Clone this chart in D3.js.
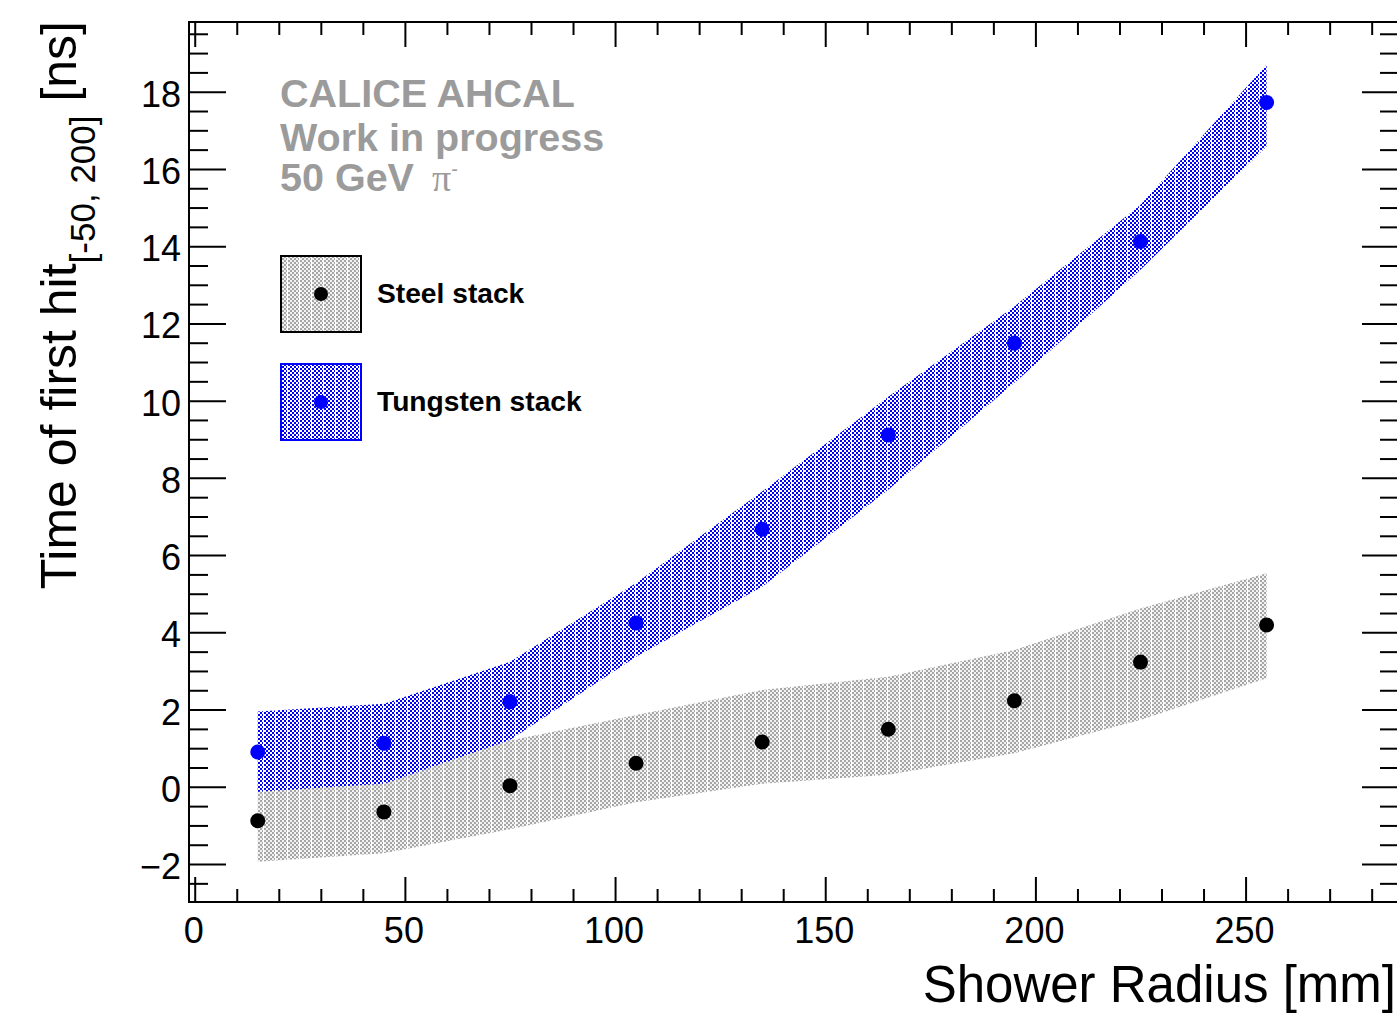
<!DOCTYPE html>
<html><head><meta charset="utf-8">
<script src="https://cdn.jsdelivr.net/npm/d3@7"></script>
<style>
body{margin:0;background:#fff}
svg{display:block}
text{font-family:"Liberation Sans",Arial,Helvetica,sans-serif}
</style>
</head><body>
<svg id="c" width="1397" height="1013"></svg>
<script>
// ---- data ----
const radius     = [15, 45, 75, 105, 135, 165, 195, 225, 255];
const steelMean  = [-0.88, -0.65, 0.03, 0.61, 1.16, 1.49, 2.23, 3.23, 4.19];
const steelLow   = [-1.94, -1.72, -1.10, -0.40, 0.08, 0.31, 0.87, 1.73, 2.81];
const steelHigh  = [0.18, 0.42, 1.20, 1.86, 2.51, 2.85, 3.54, 4.62, 5.53];
const tungMean   = [0.90, 1.13, 2.20, 4.24, 6.67, 9.11, 11.49, 14.12, 17.72];
const tungLow    = [-0.13, 0.08, 1.21, 3.37, 5.18, 7.69, 10.46, 13.39, 16.58];
const tungHigh   = [1.95, 2.15, 3.24, 5.28, 7.65, 10.10, 12.44, 15.07, 18.70];
const xMajor     = [0, 50, 100, 150, 200, 250];
const xTickLabels= ["0", "50", "100", "150", "200", "250"];
const yMajor     = [-2, 0, 2, 4, 6, 8, 10, 12, 14, 16, 18];
const yTickLabels= ["\u22122", "0", "2", "4", "6", "8", "10", "12", "14", "16", "18"];
const seriesNames= ["Steel stack", "Tungsten stack"];
const infoLines  = ["CALICE AHCAL", "Work in progress", "50 GeV "];

// ---- layout ----
const L = 189, T = 22, R = 1399, B = 902;
const svg = d3.select("#c");
const x = d3.scaleLinear().domain([-1.36, 286.5]).range([L, R]);
const y = d3.scaleLinear().domain([-2.983, 19.805]).range([B, T]);

const xMinor = d3.range(0, 290, 10).filter(v => v % 50 !== 0);
const yMinor = d3.range(-2.5, 19.75, 0.5).filter(v => Math.abs(v % 2) > 1e-9);

// ---- patterns ----
const defs = svg.append("defs");
function makePattern(id, dark, light) {
  const p = defs.append("pattern").attr("id", id)
    .attr("patternUnits", "userSpaceOnUse").attr("width", 12).attr("height", 4);
  p.append("rect").attr("width", 12).attr("height", 4).attr("fill", light);
  for (let c = 0; c < 6; c++) for (let r = 0; r < 2; r++) {
    if ((c + r) % 2 === 0) p.append("rect").attr("x", 2 * c).attr("y", 2 * r)
      .attr("width", 2).attr("height", 2).attr("fill", dark);
  }
  p.append("rect").attr("x", 11).attr("y", 0).attr("width", 1).attr("height", 4).attr("fill", "#ffffff");
}
makePattern("steelPat", "#a6a6a6", "#f2f2f2");
makePattern("tungPat", "#0000f4", "#ffffff");

// ---- bands ----
const steelArea = d3.area().x((d, i) => x(radius[i])).y0((d, i) => y(steelLow[i])).y1((d, i) => y(steelHigh[i]));
const tungArea  = d3.area().x((d, i) => x(radius[i])).y0((d, i) => y(tungLow[i])).y1((d, i) => y(tungHigh[i]));
svg.append("path").attr("d", steelArea(radius)).attr("fill", "url(#steelPat)");
svg.append("path").attr("d", tungArea(radius)).attr("fill", "url(#tungPat)");

// ---- points ----
svg.append("g").selectAll("circle").data(radius).join("circle")
  .attr("cx", d => x(d)).attr("cy", (d, i) => y(steelMean[i])).attr("r", 7.5).attr("fill", "#000");
svg.append("g").selectAll("circle").data(radius).join("circle")
  .attr("cx", d => x(d)).attr("cy", (d, i) => y(tungMean[i])).attr("r", 7.5).attr("fill", "#0000ff");

// ---- axes (ticks inward) ----
function styleAxis(g) {
  g.select(".domain").remove();
  g.selectAll(".tick line").attr("stroke", "#000").attr("stroke-width", 2);
  g.selectAll(".tick text").remove();
}
svg.append("g").attr("transform", `translate(0,${B})`)
  .call(d3.axisBottom(x).tickValues(xMajor).tickSize(-25).tickFormat("")).call(styleAxis);
svg.append("g").attr("transform", `translate(0,${B})`)
  .call(d3.axisBottom(x).tickValues(xMinor).tickSize(-13).tickFormat("")).call(styleAxis);
svg.append("g").attr("transform", `translate(0,${T})`)
  .call(d3.axisTop(x).tickValues(xMajor).tickSize(-25).tickFormat("")).call(styleAxis);
svg.append("g").attr("transform", `translate(0,${T})`)
  .call(d3.axisTop(x).tickValues(xMinor).tickSize(-13).tickFormat("")).call(styleAxis);
svg.append("g").attr("transform", `translate(${L},0)`)
  .call(d3.axisLeft(y).tickValues(yMajor).tickSize(-37).tickFormat("")).call(styleAxis);
svg.append("g").attr("transform", `translate(${L},0)`)
  .call(d3.axisLeft(y).tickValues(yMinor).tickSize(-19).tickFormat("")).call(styleAxis);
svg.append("g").attr("transform", `translate(${R},0)`)
  .call(d3.axisRight(y).tickValues(yMajor).tickSize(-37).tickFormat("")).call(styleAxis);
svg.append("g").attr("transform", `translate(${R},0)`)
  .call(d3.axisRight(y).tickValues(yMinor).tickSize(-19).tickFormat("")).call(styleAxis);

// frame
svg.append("rect").attr("x", L).attr("y", T).attr("width", R - L).attr("height", B - T)
  .attr("fill", "none").attr("stroke", "#000").attr("stroke-width", 2);

// tick labels
svg.append("g").selectAll("text").data(xMajor).join("text")
  .attr("x", d => x(d) - 1).attr("y", 943).attr("text-anchor", "middle")
  .attr("font-size", 36).text((d, i) => xTickLabels[i]);
svg.append("g").selectAll("text").data(yMajor).join("text")
  .attr("x", 181).attr("y", d => y(d) + 15).attr("text-anchor", "end")
  .attr("font-size", 36).text((d, i) => yTickLabels[i]);

// axis titles
svg.append("text").attr("x", 1396).attr("y", 1002).attr("text-anchor", "end")
  .attr("font-size", 51).text("Shower Radius [mm]");
const yt = svg.append("text").attr("transform", "translate(76,21) rotate(-90)")
  .attr("text-anchor", "end").attr("font-size", 50);
yt.append("tspan").text("Time of first hit");
yt.append("tspan").attr("dy", 19).attr("font-size", 35).text("[-50, 200]");
yt.append("tspan").attr("dy", -19).text(" [ns]");

// info text
const gray = "#9b9b9b";
infoLines.forEach((s, i) => {
  const t = svg.append("text").attr("x", 280).attr("y", [107, 151, 191][i])
    .attr("font-size", 39.5).attr("font-weight", "bold").attr("fill", gray).text(s);
  if (i === 2) {
    t.append("tspan").attr("dx", 7).attr("font-family", "'Liberation Serif','Times New Roman',serif")
      .attr("font-weight", "normal").attr("font-size", 38).text("\u03c0");
    t.append("tspan").attr("font-weight", "normal").attr("font-size", 20).attr("dy", -15).text("-");
  }
});

// legend
const legY = [256, 364];
const legPat = ["url(#steelPat)", "url(#tungPat)"];
const legStroke = ["#000", "#0000ff"];
const legDot = ["#000", "#0000ff"];
seriesNames.forEach((name, i) => {
  svg.append("rect").attr("x", 281).attr("y", legY[i]).attr("width", 80).attr("height", 76)
    .attr("fill", legPat[i]).attr("stroke", legStroke[i]).attr("stroke-width", 2);
  svg.append("circle").attr("cx", 321).attr("cy", legY[i] + 38).attr("r", 7).attr("fill", legDot[i]);
  svg.append("text").attr("x", 377).attr("y", legY[i] + 47).attr("font-size", 28.2)
    .attr("font-weight", "bold").attr("fill", "#000").text(name);
});
</script>
</body></html>
